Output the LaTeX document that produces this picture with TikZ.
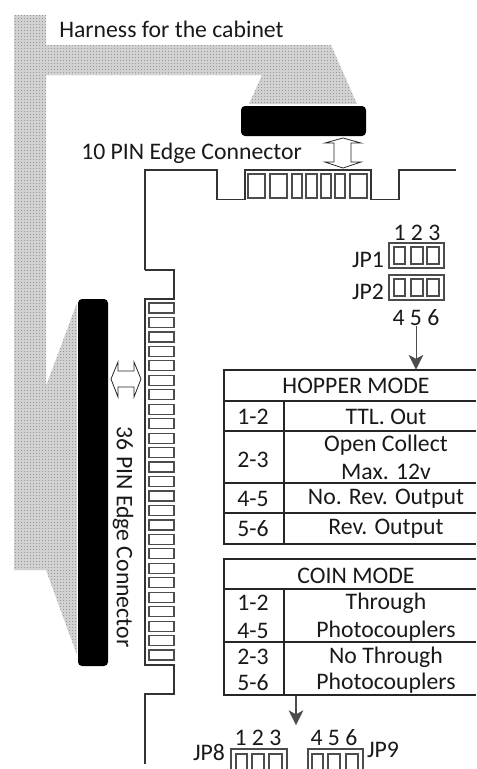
\documentclass[tikz,border=0pt]{standalone}
\usepackage{fontspec}
\setmainfont{Carlito}
\usepackage{tikz}
\usetikzlibrary{patterns}
\usetikzlibrary{arrows.meta}
\pgfdeclarepatternformonly{harness dots}{\pgfpointorigin}{\pgfqpoint{2.25pt}{2.25pt}}{\pgfqpoint{2.25pt}{2.25pt}}{
	\pgfpathrectangle{\pgfpointorigin}{\pgfqpoint{0.75pt}{0.75pt}}
	\pgfusepath{fill}
}
\tikzset{
	label text/.style={font=\fontsize{17.8pt}{20pt}\selectfont,inner sep=0pt,text=black!90},
	board line/.style={draw=black!80,line width=0.8pt},
	pin box/.style={draw=black!70,line width=0.9pt},
	table line/.style={draw=black!85,line width=0.8pt},
	plug/.style={fill=black,rounded corners=3pt},
	harness/.style={pattern=harness dots,pattern color=black!40},
	move arrow/.style={draw=black!85,fill=white,line width=0.6pt}
}
\begin{document}
\begin{tikzpicture}[x=0.75pt,y=-0.75pt,>={Stealth[length=11pt,width=11pt,inset=3pt]}]
	\useasboundingbox (0,0) rectangle (476,769);
	% harness
	\fill[black!18] (14,15) -- (46,15) -- (46,45) -- (331,45) -- (357,104) -- (249,104) -- (262,75) -- (46,75) -- (46,386) -- (77,303) -- (77,655) -- (46,570) -- (14,570) -- cycle;
	\path[harness] (14,15) -- (46,15) -- (46,45) -- (331,45) -- (357,104) -- (249,104) -- (262,75) -- (46,75) -- (46,386) -- (77,303) -- (77,655) -- (46,570) -- (14,570) -- cycle;
	\fill[plug] (241,106) rectangle (366,136);
	\fill[plug] (78,299) rectangle (108,666);
	\node[label text,anchor=west] (harnesslabel) at (59,29) {Harness for the cabinet};
	\node[label text,anchor=west] (toplabel) at (81,153) {10 PIN Edge Connector};
	\node[label text,rotate=-90] (sidelabel) at (123,537) {36 PIN Edge Connector};
	% board
	\draw[board line] (145,270) -- (145,170) -- (217,170) -- (217,199.5) -- (245,199.5) -- (245,170) -- (371,170) -- (371,199.5) -- (399,199.5) -- (399,170) -- (456,170);
	\draw[board line] (145,270) -- (174,270) -- (174,299) -- (145,299) -- (145,665) -- (174,665) -- (174,694) -- (145,694) -- (145,764);
	% edge pins
	\foreach \a/\b in {248/265,270/287,292/302,306/317,321/331,335/345,350/367}
		\draw[pin box] (\a,174) rectangle (\b,198);
	\foreach \n in {0,...,24}
		\draw[pin box] (149,303+14.46*\n) rectangle (174,313+14.46*\n);
	% double arrows
	\draw[move arrow] (343,138) -- (361,143) -- (351,143) -- (351,162) -- (361,162) -- (343,168) -- (325,162) -- (334,162) -- (334,143) -- (325,143) -- cycle;
	\draw[move arrow] (111,379) -- (118,362) -- (118,371) -- (134,371) -- (134,362) -- (141,379) -- (134,397) -- (134,387) -- (118,387) -- (118,397) -- cycle;
	% jumpers
	\foreach \y in {243,275}{
		\draw[pin box,line width=0.8pt] (389,\y) rectangle (444,\y+25);
		\foreach \a/\b in {394/405,411/423,427/439}
			\draw[pin box,line width=0.8pt] (\a,\y+4) rectangle (\b,\y+21);
	}
	\node[label text] (pinsa) at (417,233) {1 2 3};
	\node[label text] (jpa) at (368,260) {JP1};
	\node[label text] (jpb) at (368,292) {JP2};
	\node[label text] (pinsb) at (416,318) {4 5 6};
	\draw[pin box,line width=0.8pt] (231,769) -- (231,749) -- (287,749) -- (287,769);
	\draw[pin box,line width=0.8pt] (308,769) -- (308,749) -- (363,749) -- (363,769);
	\foreach \a/\b in {236/247,252/264,269/282,312/323,328/340,346/358}
		\draw[pin box] (\a,769) -- (\a,754) -- (\b,754) -- (\b,769);
	\node[label text] (jpc) at (209,752) {JP8};
	\node[label text] (jpd) at (383,750) {JP9};
	\node[label text] (pinsc) at (258,738) {1 2 3};
	\node[label text] (pinsd) at (334,738) {4 5 6};
	% hopper table
	\draw[table line] (476,370) -- (224,370) -- (224,544) -- (476,544);
	\foreach \y in {401,431,483,513}
		\draw[table line] (224,\y) -- (476,\y);
	\draw[table line] (284,401) -- (284,544);
	\node[label text] (hoppertitle) at (356,386) {HOPPER MODE};
	\foreach \nm/\y/\t in {ha/417/1-2,hb/460/2-3,hc/499/4-5,hd/529/5-6}
		\node[label text] (\nm) at (253,\y) {\t};
	\foreach \nm/\y/\t in {he/417/TTL. Out,hf/445/Open Collect,hg/472/Max. 12v,hh/499/No. Rev. Output,hi/529/Rev. Output}
		\node[label text] (\nm) at (386,\y) {\t};
	% coin table
	\draw[table line] (476,559) -- (224,559) -- (224,695) -- (476,695);
	\foreach \y in {589,642}
		\draw[table line] (224,\y) -- (476,\y);
	\draw[table line] (284,589) -- (284,695);
	\node[label text] (cointitle) at (356,576) {COIN MODE};
	\foreach \nm/\y/\t in {ca/603/1-2,cb/631/4-5,cc/657/2-3,cd/683/5-6}
		\node[label text] (\nm) at (253,\y) {\t};
	\foreach \nm/\y/\t in {ce/603/Through,cf/631/Photocouplers,cg/657/No Through,ch/683/Photocouplers}
		\node[label text] (\nm) at (386,\y) {\t};
	% arrows
	\coordinate (hoppertop) at (416,369.5);
	\coordinate (coinbottom) at (296,695.5);
	\coordinate (jumpertop) at (296,725);
	\draw[->,draw=black!70,line width=0.7pt] (pinsb) -- (hoppertop);
	\draw[->,draw=black!70,line width=0.9pt] (coinbottom) -- (jumpertop);
\end{tikzpicture}
\end{document}
